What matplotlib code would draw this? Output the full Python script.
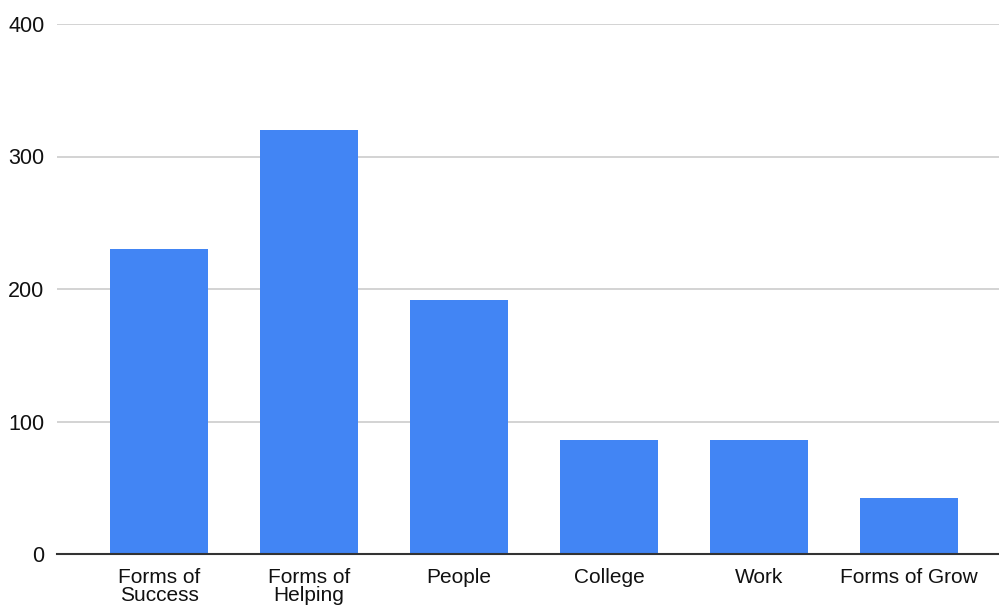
import matplotlib
matplotlib.use("Agg")
import matplotlib.pyplot as plt

categories = ["Forms of\nSuccess", "Forms of\nHelping", "People", "College", "Work", "Forms of Grow"]
values = [230, 320, 192, 86, 86, 42]
yticks = [0, 100, 200, 300, 400]

plt.rcParams['font.family'] = ['Liberation Sans', 'DejaVu Sans']

fig = plt.figure(figsize=(9.99, 6.07), dpi=100)
ax = fig.add_axes([57/999, (607-554)/607, 1 - 57/999, (554-24)/607])

x = list(range(len(categories)))
ax.bar(x, values, width=0.65, color="#4285F4", zorder=3)

ax.set_ylim(0, 400)
ax.set_xlim(-0.68, 5.6)
ax.set_yticks(yticks)
ax.set_yticklabels([str(t) for t in yticks], fontsize=15.5, color="#111111")
ax.set_xticks(x)
ax.set_xticklabels(categories, fontsize=15, color="#111111", linespacing=0.95)
ax.tick_params(axis='both', length=0)
ax.tick_params(axis='y', pad=9)
ax.tick_params(axis='x', pad=10)

ax.grid(axis='y', color="#cccccc", linewidth=1.2, zorder=0)
for s in ['top', 'right', 'left']:
    ax.spines[s].set_visible(False)
ax.spines['bottom'].set_color("#333333")
ax.spines['bottom'].set_linewidth(1.5)
ax.spines['bottom'].set_zorder(4)

fig.savefig("out.png", dpi=100)
